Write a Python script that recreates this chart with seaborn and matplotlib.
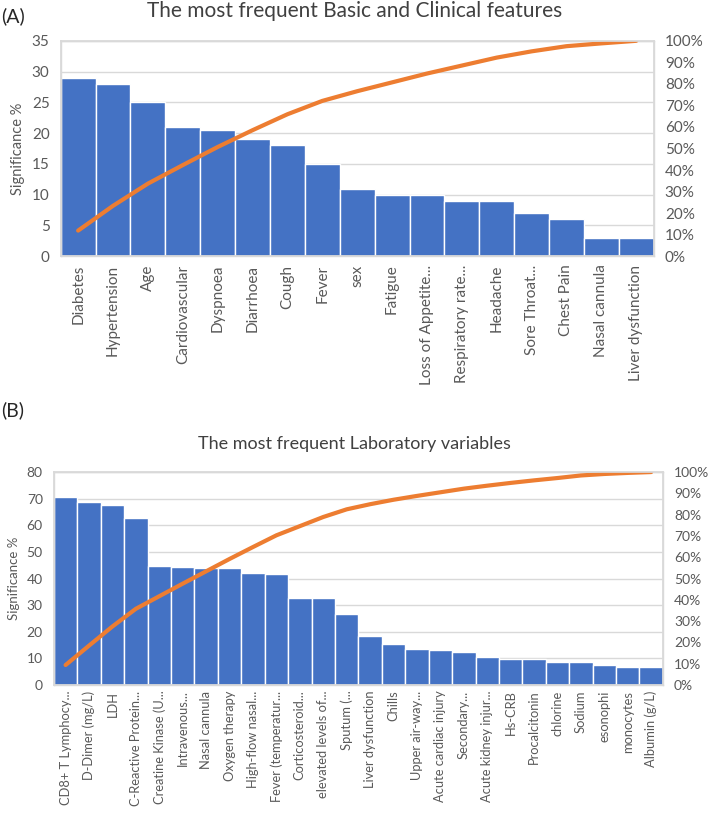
import matplotlib
matplotlib.use("Agg")
import matplotlib.pyplot as plt
import seaborn as sns
import pandas as pd
from matplotlib.ticker import PercentFormatter

sns.set_theme(style="white")
plt.rcParams['font.family'] = ['Lato', 'DejaVu Sans']

# ---------------- data ----------------
cats_a = ["Diabetes", "Hypertension", "Age", "Cardiovascular", "Dyspnoea", "Diarrhoea",
          "Cough", "Fever", "sex", "Fatigue", "Loss of Appetite...", "Respiratory rate...",
          "Headache", "Sore Throat...", "Chest Pain", "Nasal cannula", "Liver dysfunction"]
vals_a = [29, 28, 25, 21, 20.5, 19, 18, 15, 11, 10, 10, 9, 9, 7, 6, 3, 3]
cum_a = [11.9, 23.4, 33.7, 42.3, 50.7, 58.5, 65.9, 72.1, 76.6, 80.7, 84.8, 88.5,
         92.2, 95.1, 97.5, 98.8, 100.0]

cats_b = ["CD8+ T Lymphocy...", "D-Dimer (mg/L)", "LDH", "C-Reactive Protein...",
          "Creatine Kinase (U...", "Intravenous...", "Nasal cannula", "Oxygen therapy",
          "High-flow nasal...", "Fever (temperatur...", "Corticosteroid...",
          "elevated levels of...", "Sputum (...", "Liver dysfunction", "Chills",
          "Upper air-way...", "Acute cardiac injury", "Secondary...",
          "Acute kidney injur...", "Hs-CRB", "Procalcitonin", "chlorine", "Sodium",
          "esonophi", "monocytes", "Albumin (g/L)"]
vals_b = [70.8, 68.8, 67.8, 62.8, 44.6, 44.3, 44.1, 43.8, 42.2, 41.7, 32.6, 32.6,
          26.6, 18.5, 15.5, 13.6, 13.2, 12.5, 10.6, 9.6, 9.6, 8.5, 8.5, 7.7, 6.6, 6.6]
cum_b = [9.4, 18.5, 27.5, 35.8, 41.7, 47.6, 53.4, 59.2, 64.8, 70.3, 74.6, 78.9,
         82.5, 84.9, 87.0, 88.8, 90.5, 92.2, 93.6, 94.9, 96.1, 97.2, 98.4, 99.1,
         99.6, 100.0]

BLUE = "#4472C4"
ORANGE = "#ED7D31"
GRID = "#D9D9D9"
TXT = "#595959"
TITLE = "#404040"

fig = plt.figure(figsize=(7.09, 8.16), dpi=100)


def pareto(rect, cats, vals, cum, ymax, ystep, title, xfs, yfs, labfs, title_fs, title_y, xpad):
    ax = fig.add_axes(rect)
    df = pd.DataFrame({"cat": cats, "val": vals})
    sns.barplot(data=df, x="cat", y="val", ax=ax, color=BLUE, saturation=1,
                width=1.0, edgecolor="white", linewidth=1.0)
    n = len(cats)
    ax.set_xlim(-0.5, n - 0.5)
    ax.set_ylim(0, ymax)
    ax.set_yticks(range(0, ymax + 1, ystep))
    ax.yaxis.grid(True, color=GRID, linewidth=1)
    ax.set_axisbelow(True)
    for s in ax.spines.values():
        s.set_color(GRID)
        s.set_linewidth(1)
    ax.set_xlabel("")
    ax.set_ylabel("Significance %", color=TXT, fontsize=labfs, labelpad=5)
    ax.tick_params(axis="x", rotation=90, labelsize=xfs, colors=TXT, length=0, pad=xpad)
    ax.tick_params(axis="y", labelsize=yfs, colors=TXT, length=0, pad=8)
    for lab in ax.get_xticklabels():
        lab.set_va("top")
        lab.set_ha("center")

    ax2 = ax.twinx()
    sns.lineplot(x=list(range(n)), y=cum, ax=ax2, color=ORANGE, linewidth=3)
    ax2.set_ylim(0, 100)
    ax2.set_yticks(range(0, 101, 10))
    ax2.yaxis.set_major_formatter(PercentFormatter(decimals=0))
    ax2.tick_params(axis="y", labelsize=yfs, colors=TXT, length=0, pad=8)
    for s in ax2.spines.values():
        s.set_color(GRID)
    ax2.grid(False)
    ax2.set_ylabel("")
    fig.text(0.5, title_y, title, ha="center", va="center", color=TITLE, fontsize=title_fs)
    return ax


pareto([0.0856, 0.686, 0.8364, 0.264], cats_a, vals_a, cum_a, 35, 5,
       "The most frequent Basic and Clinical features", 11, 11, 10.5, 15, 0.987, 6)
pareto([0.076, 0.1605, 0.859, 0.261], cats_b, vals_b, cum_b, 80, 10,
       "The most frequent Laboratory variables", 9.3, 10, 9.5, 13, 0.456, 4)

fig.text(0.002, 0.980, "(A)", fontsize=14, color="#262626", ha="left", va="center")
fig.text(0.002, 0.497, "(B)", fontsize=14, color="#262626", ha="left", va="center")

fig.savefig("out.png", dpi=100)
